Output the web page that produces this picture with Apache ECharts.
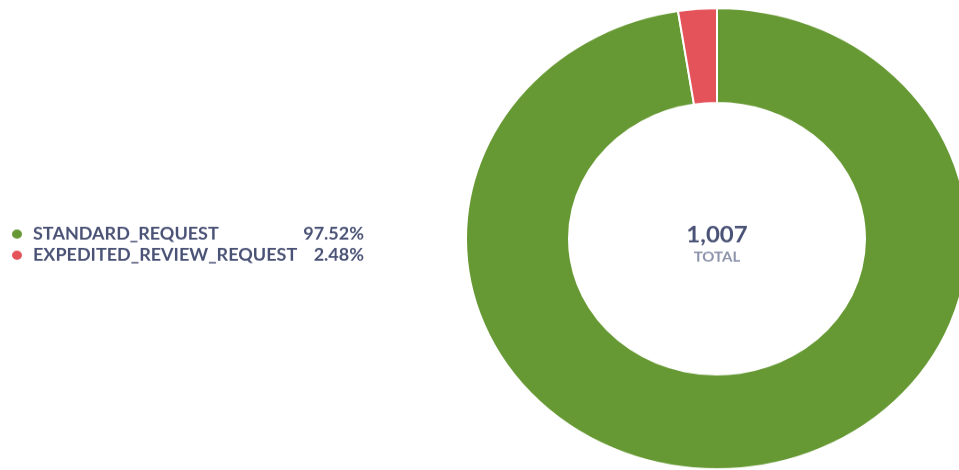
<!DOCTYPE html>
<html>
<head>
<meta charset="utf-8">
<script src="https://cdn.jsdelivr.net/npm/echarts@6/dist/echarts.min.js"></script>
<style>
html,body{margin:0;padding:0;background:#fff;overflow:hidden;width:959px;height:470px;}
#wrap{width:959px;height:470px;overflow:hidden;}
#chart{width:959px;height:512px;transform:scaleY(0.918);transform-origin:0 0;}
</style>
</head>
<body>
<div id="wrap"><div id="chart"></div></div>
<script>
const categories = ['STANDARD_REQUEST', 'EXPEDITED_REVIEW_REQUEST'];
const values = [982, 25];
const colors = ['#669933', '#e5535a'];
const totalLabel = 'TOTAL';

const total = values.reduce((a, b) => a + b, 0);
const pct = {};
categories.forEach((c, i) => { pct[c] = (values[i] / total * 100).toFixed(2) + '%'; });

const chart = echarts.init(document.getElementById('chart'), null, {renderer: 'canvas'});
chart.setOption({
  animation: false,
  color: colors,
  legend: {
    orient: 'vertical',
    left: 5,
    top: 241,
    icon: 'circle',
    itemWidth: 22,
    itemHeight: 12,
    itemGap: 5,
    selectedMode: false,
    formatter: name => '{n|' + name + '}{p|' + pct[name] + '}',
    textStyle: {
      rich: {
        n: {fontFamily: 'Lato', fontWeight: 'bold', fontSize: 18, color: '#4a5275', width: 265, lineHeight: 18},
        p: {fontFamily: 'Lato', fontWeight: 'bold', fontSize: 18, color: '#4a5275', width: 66, align: 'right', lineHeight: 18}
      }
    },
    data: categories
  },
  graphic: [
    {type: 'text', x: 717, y: 256, style: {text: total.toLocaleString('en-US'), textAlign: 'center', textVerticalAlign: 'middle', font: 'bold 24px Lato', fill: '#4a5275'}},
    {type: 'text', x: 717, y: 280, style: {text: totalLabel, textAlign: 'center', textVerticalAlign: 'middle', font: 'bold 15px Lato', fill: '#8c93ab'}}
  ],
  series: [{
    type: 'pie',
    center: [717, 260],
    radius: [148, 251],
    startAngle: 90,
    clockwise: true,
    label: {show: false},
    labelLine: {show: false},
    emphasis: {disabled: true},
    itemStyle: {borderColor: '#fff', borderWidth: 2},
    data: categories.map((c, i) => ({name: c, value: values[i]}))
  }]
});
</script>
</body>
</html>
